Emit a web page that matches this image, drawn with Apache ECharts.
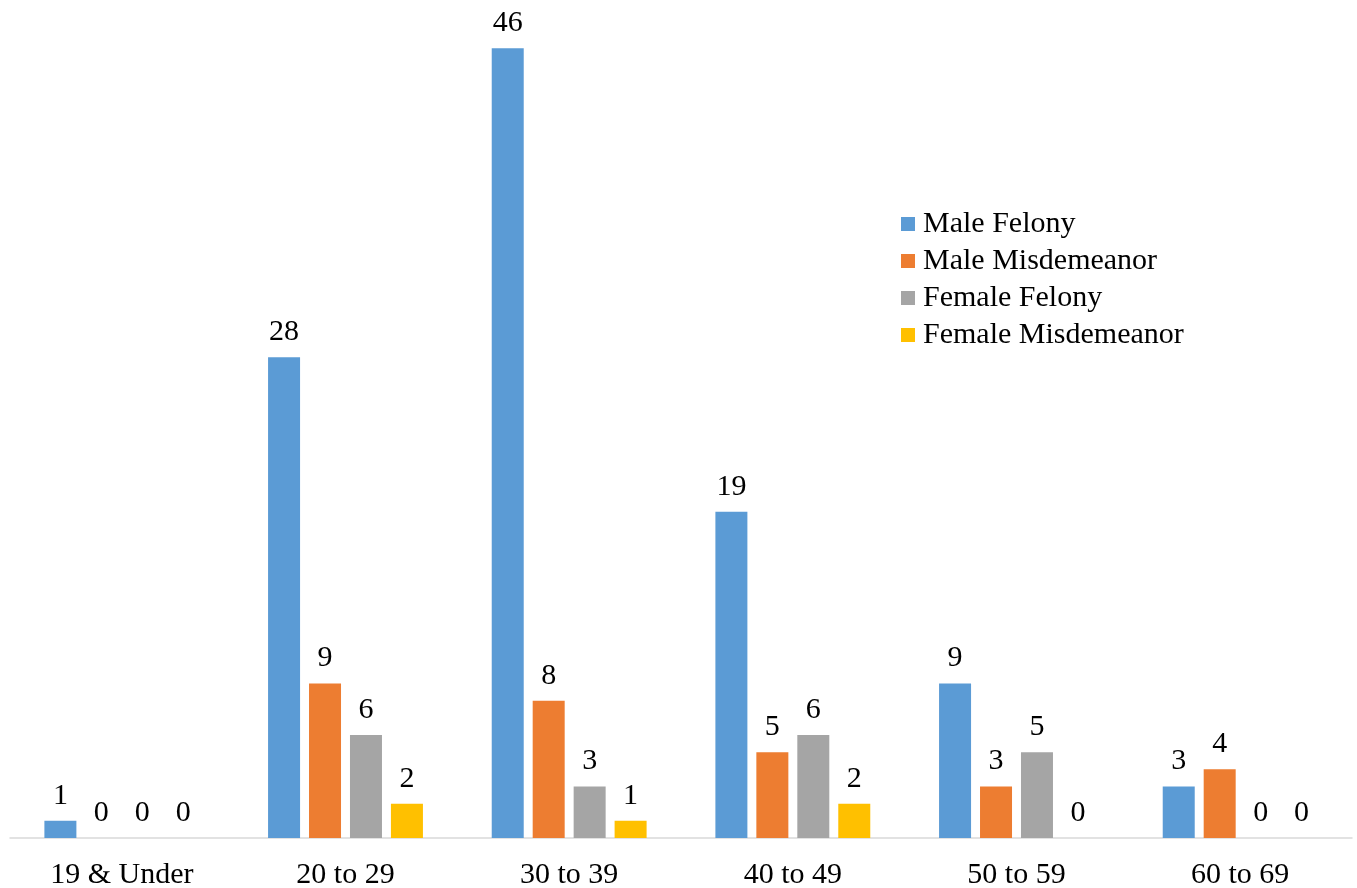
<!DOCTYPE html>
<html>
<head>
<meta charset="utf-8">
<script src="https://cdn.jsdelivr.net/npm/echarts@6/dist/echarts.min.js"></script>
<style>
html,body{margin:0;padding:0;background:#fff;}
#chart{width:1357px;height:888px;}
</style>
</head>
<body>
<div id="chart"></div>
<script>
const categories = ['19 & Under', '20 to 29', '30 to 39', '40 to 49', '50 to 59', '60 to 69'];
const seriesNames = ['Male Felony', 'Male Misdemeanor', 'Female Felony', 'Female Misdemeanor'];
const maleFelony = [1, 28, 46, 19, 9, 3];
const maleMisdemeanor = [0, 9, 8, 5, 3, 4];
const femaleFelony = [0, 6, 3, 6, 5, 0];
const femaleMisdemeanor = [0, 2, 1, 2, 0, 0];
const colors = ['#5B9BD5', '#ED7D31', '#A5A5A5', '#FFC000'];

const FONT = "'Liberation Serif', 'Times New Roman', serif";
const dataSets = [maleFelony, maleMisdemeanor, femaleFelony, femaleMisdemeanor];

const chart = echarts.init(document.getElementById('chart'), null, {renderer: 'canvas'});
chart.setOption({
  animation: false,
  color: colors,
  grid: {left: 10, right: 5, top: 14, bottom: 50, containLabel: false, outerBoundsMode: 'none'},
  legend: {
    orient: 'vertical',
    left: 896,
    top: 204,
    itemWidth: 14,
    itemHeight: 14,
    itemGap: 7,
    icon: 'rect',
    textStyle: {fontFamily: FONT, fontSize: 30, lineHeight: 30, color: '#000', padding: [0, 0, 0, 3]},
    data: seriesNames
  },
  xAxis: {
    type: 'category',
    data: categories,
    axisLine: {show: true, lineStyle: {color: '#D9D9D9', width: 1.5}},
    axisTick: {show: false},
    axisLabel: {fontFamily: FONT, fontSize: 30, color: '#000', margin: 22, interval: 0}
  },
  yAxis: {
    type: 'value',
    min: 0,
    max: 48,
    show: false,
    splitLine: {show: false}
  },
  series: dataSets.map((d, i) => ({
    name: seriesNames[i],
    type: 'bar',
    data: d,
    barWidth: 32,
    barGap: '28%',
    itemStyle: {color: colors[i]},
    label: {
      show: true,
      position: 'top',
      distance: 10,
      fontFamily: FONT,
      fontSize: 30,
      color: '#000'
    }
  }))
});
</script>
</body>
</html>
